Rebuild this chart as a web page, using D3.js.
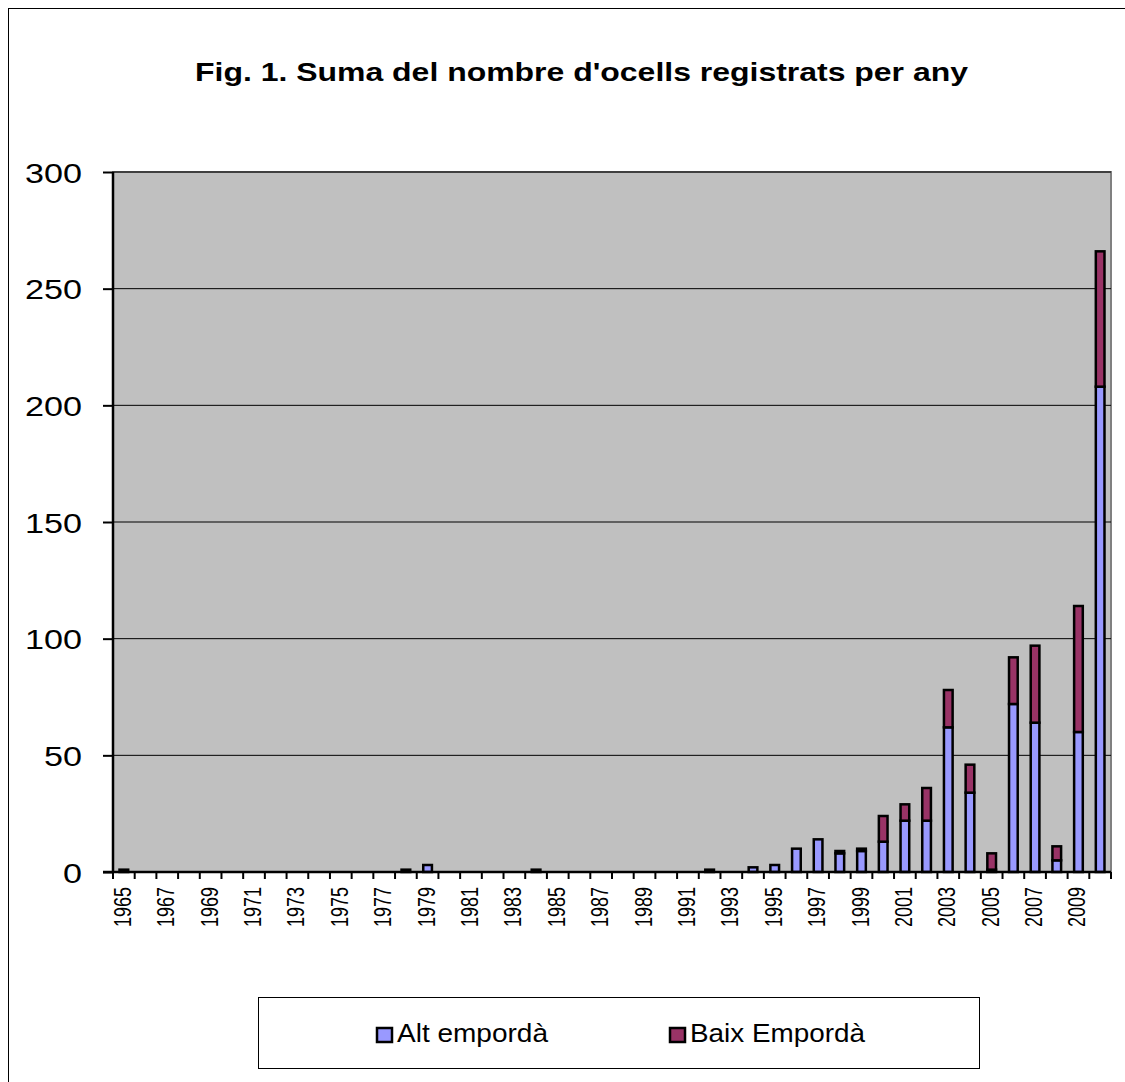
<!DOCTYPE html>
<meta charset="utf-8">
<script src="https://d3js.org/d3.v7.min.js"></script>
<style>
body { margin:0; background:#fff; }
text { font-family: "Liberation Sans", Arial, sans-serif; }
</style>
<body>
</body>
<script>

// years 1965..2010
var years = d3.range(1965, 2011);
var alt = [1,0,0,0,0,0,0,0,0,0,0,0,0,1,3,0,0,0,0,1,0,0,0,0,0,0,0,1,0,2,3,10,14,8,9,13,22,22,62,34,1,72,64,5,60,208];
var baix = [0,0,0,0,0,0,0,0,0,0,0,0,0,0,0,0,0,0,0,0,0,0,0,0,0,0,0,0,0,0,0,0,0,1,1,11,7,14,16,12,7,20,33,6,54,58];
var seriesNames = ["Alt empordà", "Baix Empordà"];
var colors = ["#9999ff", "#993366"];
var yTicks = [0,50,100,150,200,250,300];

var data = years.map(function(y,i){ return {year:y, alt:alt[i], baix:baix[i]}; });

var W = 1125, H = 1082;
var margin = {top:172, left:113, right:14, bottom:210};
var width = W - margin.left - margin.right,
    height = H - margin.top - margin.bottom;

var svg = d3.select('body').append('svg')
  .attr('width', W)
  .attr('height', H);

// outer border
svg.append('rect')
  .attr('x', 8.5).attr('y', 8.5)
  .attr('width', W + 10).attr('height', H + 10)
  .attr('fill', 'none').attr('stroke', '#000').attr('stroke-width', 1);

svg.append('text')
  .attr('x', 195).attr('y', 81)
  .attr('textLength', 773).attr('lengthAdjust', 'spacingAndGlyphs')
  .style('font-size', '25px').style('font-weight', 'bold')
  .text("Fig. 1. Suma del nombre d'ocells registrats per any");

var g = svg.append('g')
  .attr('transform', 'translate(' + margin.left + ',' + margin.top + ')');

var x = d3.scaleBand()
  .domain(years)
  .range([0, width])
  .paddingInner(0.6).paddingOuter(0.3);

var y = d3.scaleLinear()
  .domain([0, 300])
  .range([height, 0]);

// plot background
g.append('rect')
  .attr('width', width).attr('height', height)
  .attr('fill', '#c0c0c0')
  .attr('stroke', '#808080').attr('stroke-width', 2);

// gridlines
g.selectAll('.grid')
  .data(yTicks.slice(1))
  .enter().append('line')
  .attr('x1', 0).attr('x2', width)
  .attr('y1', function(d){ return y(d); })
  .attr('y2', function(d){ return y(d); })
  .attr('stroke', '#000').attr('stroke-width', 1);

// stacked bars
var stack = d3.stack().keys(['alt', 'baix']);
var layers = stack(data);

g.selectAll('.layer')
  .data(layers)
  .enter().append('g')
  .attr('class', 'layer')
  .attr('fill', function(d,i){ return colors[i]; })
  .selectAll('rect')
  .data(function(d){ return d.filter(function(e){ return e[1] - e[0] > 0; }); })
  .enter().append('rect')
  .attr('x', function(d){ return x(d.data.year); })
  .attr('width', x.bandwidth())
  .attr('y', function(d){ return y(d[1]); })
  .attr('height', function(d){ return y(d[0]) - y(d[1]); })
  .attr('stroke', '#000').attr('stroke-width', 2.5);

// y axis
var yAxis = g.append('g')
  .call(d3.axisLeft(y).tickValues(yTicks).tickSize(10).tickPadding(0));
yAxis.select('.domain').attr('stroke', '#000').attr('stroke-width', 2.5)
  .attr('d', 'M0,' + height + 'V0');
yAxis.selectAll('.tick line').attr('stroke-width', 2);
yAxis.selectAll('text')
  .attr('x', 0).attr('dy', '0.36em')
  .attr('transform', 'translate(-31,0) scale(1.22,1)')
  .style('font-size', '28px').attr('fill', '#000');

// x axis: ticks at category boundaries
var step = x.step();
g.append('line')
  .attr('x1', -10).attr('x2', width)
  .attr('y1', height).attr('y2', height)
  .attr('stroke', '#000').attr('stroke-width', 2.5);

g.selectAll('.xtick')
  .data(years.concat([2011]))
  .enter().append('line')
  .attr('x1', function(d,i){ return i < years.length ? x(d) - x.paddingInner()*step/2 : width; })
  .attr('x2', function(d,i){ return i < years.length ? x(d) - x.paddingInner()*step/2 : width; })
  .attr('y1', height).attr('y2', height + 7)
  .attr('stroke', '#000').attr('stroke-width', 2);

g.selectAll('.xlab')
  .data(years.filter(function(d){ return (d - 1965) % 2 === 0; }))
  .enter().append('text')
  .attr('transform', function(d){
    return 'translate(' + (x(d) + x.bandwidth()/2 + 7) + ',' + (height + 15) + ') rotate(-90) scale(1,1.35)';
  })
  .attr('text-anchor', 'end')
  .style('font-size', '18px')
  .text(function(d){ return d; });

// legend
var leg = svg.append('g').attr('transform', 'translate(258,997)');
leg.append('rect')
  .attr('x', 0.5).attr('y', 0.5)
  .attr('width', 721).attr('height', 71)
  .attr('fill', '#fff').attr('stroke', '#000').attr('stroke-width', 1);

var legWidths = [151, 175];
var items = leg.selectAll('.item')
  .data(seriesNames)
  .enter().append('g')
  .attr('transform', function(d,i){ return 'translate(' + (i === 0 ? 119 : 412) + ',0)'; });

items.append('rect')
  .attr('x', 0).attr('y', 31)
  .attr('width', 15).attr('height', 14)
  .attr('fill', function(d,i){ return colors[i]; })
  .attr('stroke', '#000').attr('stroke-width', 2.5);

items.append('text')
  .attr('x', 20).attr('y', 45)
  .attr('textLength', function(d,i){ return legWidths[i]; })
  .attr('lengthAdjust', 'spacingAndGlyphs')
  .style('font-size', '25px')
  .text(function(d){ return d; });

</script>
